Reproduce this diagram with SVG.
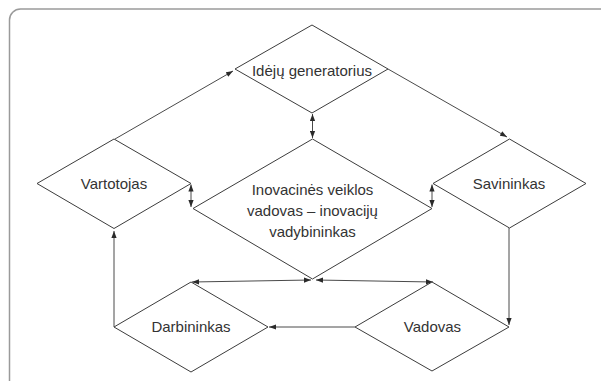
<svg xmlns="http://www.w3.org/2000/svg" width="601" height="381" viewBox="0 0 601 381">
  <style>
    .frame { fill: none; stroke: #9a9a9a; stroke-width: 1.5; }
    .node polygon { fill: #ffffff; stroke: #3c3c3c; stroke-width: 1; }
    .node text { font-family: "Liberation Sans", Arial, sans-serif; font-size: 15px; fill: #333333; text-anchor: middle; }
    .edge { fill: none; stroke: #4a4a4a; stroke-width: 1; }
    .one { marker-end: url(#arrow); }
    .two { marker-start: url(#arrow); marker-end: url(#arrow); }
  </style>
  <defs>
    <marker id="arrow" markerUnits="userSpaceOnUse" markerWidth="7" markerHeight="6" refX="7" refY="3" orient="auto-start-reverse">
      <path d="M0,0.4 L7,3 L0,5.6 z" fill="#2a2a2a"/>
    </marker>
  </defs>

  <rect width="601" height="381" fill="#ffffff"/>
  <!-- outer rounded frame, running off the right and bottom edges -->
  <rect class="frame" x="9.5" y="9" width="640" height="420" rx="11" ry="11"/>

  <g id="connectors">
    <path class="edge one" d="M115,139 L233,71"/>
    <path class="edge one" d="M388,69 L507,137"/>
    <path class="edge two" d="M312.5,114 L312.5,138"/>
    <path class="edge two" d="M191,184.5 L191,207"/>
    <path class="edge two" d="M432,184.5 L432,207"/>
    <path class="edge one" d="M509,228 L509,325"/>
    <path class="edge one" d="M355,327 L269,327"/>
    <path class="edge one" d="M114,327 L114,231"/>
    <path class="edge two" d="M192,282 L311,280"/>
    <path class="edge two" d="M316,280 L433,282"/>
  </g>

  <g id="idea-generator" class="node">
    <polygon points="312,25 388,69 312,113 235,69"/>
    <text x="312" y="76">Idėjų generatorius</text>
  </g>

  <g id="consumer" class="node">
    <polygon points="114,139 191,183.5 114,228.5 37,183.5"/>
    <text x="114" y="189">Vartotojas</text>
  </g>

  <g id="owner" class="node">
    <polygon points="509.5,139 586,183.5 509.5,228 433,183.5"/>
    <text x="509" y="189">Savininkas</text>
  </g>

  <g id="innovation-manager" class="node">
    <polygon points="312.5,139 432,208.5 312.5,279 193,208.5"/>
    <text x="312.5" y="195">Inovacinės veiklos</text>
    <text x="312.5" y="216">vadovas – inovacijų</text>
    <text x="312.5" y="237">vadybininkas</text>
  </g>

  <g id="worker" class="node">
    <polygon points="191,282 268,327 191,372 114,327"/>
    <text x="191" y="332">Darbininkas</text>
  </g>

  <g id="manager" class="node">
    <polygon points="432,282 509,327 432,371 355,327"/>
    <text x="432.5" y="332">Vadovas</text>
  </g>
</svg>
